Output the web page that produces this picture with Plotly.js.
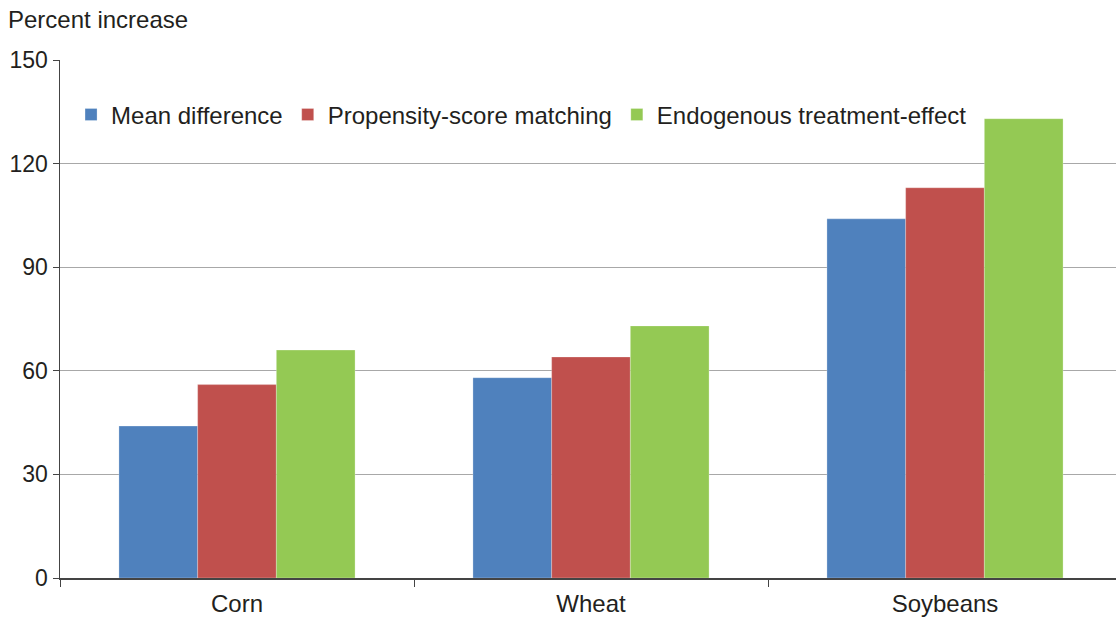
<!DOCTYPE html>
<html><head><meta charset="utf-8">
<script src="https://cdn.plot.ly/plotly-3.0.1.min.js"></script>
<style>html,body{margin:0;padding:0;overflow:hidden;background:#fff}#chart{width:1122px;height:619px}</style>
</head><body><div id="chart"></div>
<script>
const categories = ["Corn", "Wheat", "Soybeans"];
const meanDifference = [44, 58, 104];
const propensityScore = [56, 64, 113];
const endogenous = [66, 73, 133];
const seriesNames = ["Mean difference", "Propensity-score matching", "Endogenous treatment-effect"];
const yTicks = [0, 30, 60, 90, 120, 150];

const colors = ["#4F81BD", "#C0504D", "#94C954"];
const data = [meanDifference, propensityScore, endogenous].map((v, i) => ({
  type: "bar", x: categories, y: v, name: seriesNames[i],
  marker: {color: colors[i], line: {color: "rgba(255,255,255,0.5)", width: 0.5}}
}));

const font = {family: "Liberation Sans, Arial, sans-serif", color: "#231f20", size: 24};
const layout = {
  width: 1122, height: 619,
  margin: {l: 60, r: 0, t: 60, b: 41},
  paper_bgcolor: "#fff", plot_bgcolor: "#fff",
  font: font,
  barmode: "group", bargap: 0.333, bargroupgap: 0,
  showlegend: true,
  legend: {orientation: "h", x: 0.0104, y: 0.894, xanchor: "left", yanchor: "middle",
           font: {size: 24, color: "#231f20", family: font.family}, bgcolor: "rgba(0,0,0,0)",
           tracegroupgap: 0},
  xaxis: {
    type: "category", tickson: "boundaries", ticks: "outside", ticklen: 7, tickcolor: "#444",
    showline: true, linecolor: "#444", linewidth: 1.5, showgrid: false,
    tickfont: {size: 24, color: "#231f20"}, ticklabelstandoff: 4, fixedrange: true
  },
  yaxis: {
    range: [0, 150], tickvals: yTicks, ticktext: yTicks.map(String),
    ticks: "outside", ticklen: 6, tickcolor: "#444",
    showline: true, linecolor: "#444", linewidth: 1.5,
    showgrid: true, gridcolor: "#a8a8a8", gridwidth: 1, zeroline: false,
    tickfont: {size: 23, color: "#231f20"}, fixedrange: true
  },
  annotations: [{
    text: "Percent increase", xref: "paper", yref: "paper",
    x: -0.0505, y: 1.0, yshift: 41, xanchor: "left", yanchor: "middle",
    showarrow: false, font: {size: 24, color: "#231f20"}
  }]
};
Plotly.newPlot("chart", data, layout, {displayModeBar: false, staticPlot: true});
</script></body></html>
